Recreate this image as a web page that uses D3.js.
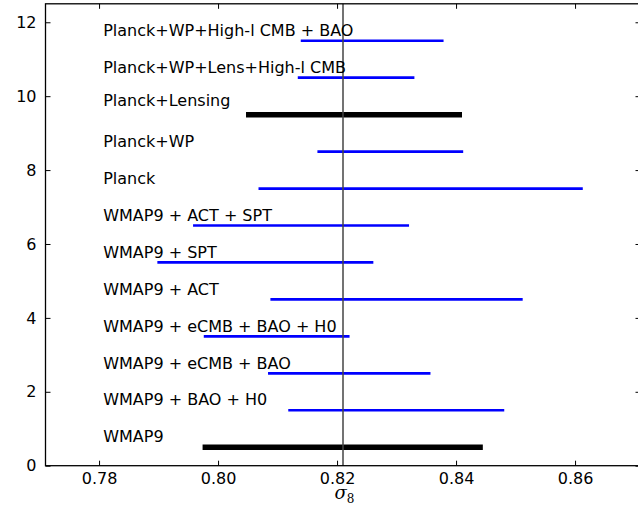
<!DOCTYPE html>
<html>
<head>
<meta charset="utf-8">
<script src="https://cdnjs.cloudflare.com/ajax/libs/d3/7.8.5/d3.min.js"></script>
<style>
  body { margin: 0; background: #fff; }
  text { font-family: "DejaVu Sans", sans-serif; }
</style>
</head>
<body>
<div id="root"></div>
<script>
// Data sets, bottom to top.
const labels = [
  'WMAP9', 'WMAP9 + BAO + H0', 'WMAP9 + eCMB + BAO', 'WMAP9 + eCMB + BAO + H0',
  'WMAP9 + ACT', 'WMAP9 + SPT', 'WMAP9 + ACT + SPT', 'Planck', 'Planck+WP',
  'Planck+Lensing', 'Planck+WP+Lens+High-l CMB', 'Planck+WP+High-l CMB + BAO'
];
const lows  = [0.7974, 0.8118, 0.8084, 0.7976, 0.8088, 0.7898, 0.7958, 0.8068, 0.8167, 0.8047, 0.8134, 0.8139];
const highs = [0.8445, 0.8481, 0.8357, 0.8221, 0.8512, 0.8261, 0.8321, 0.8613, 0.8412, 0.8410, 0.8330, 0.8379];
const rows  = [0.5, 1.5, 2.5, 3.5, 4.5, 5.5, 6.5, 7.5, 8.5, 9.5, 10.5, 11.5];
const labelRows = [0.63, 1.63, 2.63, 3.63, 4.63, 5.63, 6.63, 7.63, 8.63, 9.73, 10.63, 11.63];
const labelX = 0.7807;
const baseline = [true, false, false, false, false, false, false, false, false, true, false, false];
const refValue = 0.821;

const xTicks = [0.78, 0.80, 0.82, 0.84, 0.86];
const yTicks = [0, 2, 4, 6, 8, 10, 12];
const xDomain = [0.771, 0.871];
const yDomain = [0, 12.5];

const W = 638, H = 506;
const margin = { top: 3.8, left: 45.5, right: -2.5, bottom: 40.3 };

const x = d3.scaleLinear().domain(xDomain).range([margin.left, W - margin.right]);
const y = d3.scaleLinear().domain(yDomain).range([H - margin.bottom, margin.top]);

const svg = d3.select('#root')
  .append('svg')
  .attr('width', W)
  .attr('height', H);

const data = labels.map((d, i) => ({ name: d, lo: lows[i], hi: highs[i], row: rows[i], ly: labelRows[i], base: baseline[i] }));

// Interval bars.
svg.selectAll('.bar')
  .data(data)
  .enter()
  .append('line')
  .attr('class', 'bar')
  .attr('x1', d => x(d.lo))
  .attr('x2', d => x(d.hi))
  .attr('y1', d => y(d.row))
  .attr('y2', d => y(d.row))
  .attr('stroke', d => d.base ? '#000' : '#0000ff')
  .attr('stroke-width', d => d.base ? 5.5 : 2.7);

// Reference line, drawn over the bars.
svg.append('line')
  .attr('x1', x(refValue)).attr('x2', x(refValue))
  .attr('y1', y(yDomain[0])).attr('y2', y(yDomain[1]))
  .attr('stroke', '#444')
  .attr('stroke-width', 1.5);

// Labels.
svg.selectAll('.lbl')
  .data(data)
  .enter()
  .append('text')
  .attr('class', 'lbl')
  .attr('x', x(labelX))
  .attr('y', d => y(d.ly))
  .style('font-size', '16px')
  .attr('fill', '#000')
  .text(d => d.name);

// Axes with inward ticks (matplotlib classic look).
const tickLen = 5;
const xBottom = d3.axisBottom(x).tickValues(xTicks).tickSize(-tickLen).tickPadding(7).tickFormat(d3.format('.2f'));
const xTop = d3.axisTop(x).tickValues(xTicks).tickSize(-tickLen).tickFormat('');
const yLeft = d3.axisLeft(y).tickValues(yTicks).tickSize(-tickLen).tickPadding(9).tickFormat(d3.format('d'));
const yRight = d3.axisRight(y).tickValues(yTicks).tickSize(-tickLen).tickFormat('');

function styleAxis(g) {
  g.select('.domain').remove();
  g.selectAll('.tick line').attr('stroke', '#000').attr('stroke-width', 1);
  g.selectAll('.tick text').attr('fill', '#000').style('font-size', '16px').style('font-family', '"DejaVu Sans", sans-serif');
}

svg.append('g').attr('transform', `translate(0,${y(0)})`).call(xBottom).call(styleAxis);
svg.append('g').attr('transform', `translate(0,${y(yDomain[1])})`).call(xTop).call(styleAxis);
svg.append('g').attr('transform', `translate(${x(xDomain[0])},0)`).call(yLeft).call(styleAxis);
svg.append('g').attr('transform', `translate(${x(xDomain[1])},0)`).call(yRight).call(styleAxis);

// Frame.
svg.append('rect')
  .attr('x', x(xDomain[0]))
  .attr('y', y(yDomain[1]))
  .attr('width', x(xDomain[1]) - x(xDomain[0]))
  .attr('height', y(0) - y(yDomain[1]))
  .attr('fill', 'none')
  .attr('stroke', '#000')
  .attr('stroke-width', 1.3);

// x-axis label: sigma_8
const xl = svg.append('text')
  .attr('x', 344.5)
  .attr('y', 499)
  .attr('text-anchor', 'middle')
  .style('font-family', '"DejaVu Serif", serif')
  .style('font-size', '18px');
xl.append('tspan').style('font-style', 'italic').text('σ');
xl.append('tspan').attr('dy', 4).style('font-size', '12px').text('8');
</script>
</body>
</html>
